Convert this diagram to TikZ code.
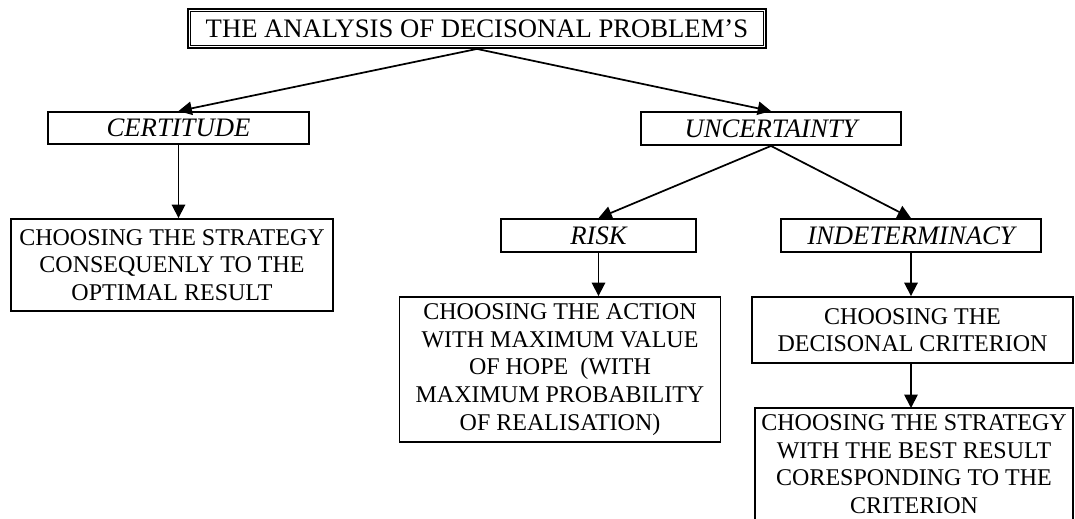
\documentclass[tikz,border=0pt]{standalone}
\usepackage{fontspec}
\setmainfont{Liberation Serif}
\usetikzlibrary{arrows.meta}
\begin{document}
\begin{tikzpicture}[x=0.75pt,y=-0.75pt,
  boxline/.style={draw, line width=1.4pt},
  box/.style={boxline, align=center, inner sep=1pt, font=\fontsize{18}{20.7}\selectfont},
  lvl/.style={box, font=\fontsize{20}{23}\selectfont\itshape},
  arr/.style={-{Triangle[length=10pt,width=10pt]}, line width=1.3pt}]
\useasboundingbox (0,0) rectangle (1075,518);
\node[draw, line width=1.4pt, align=center, font=\fontsize{20}{23}\selectfont,
      minimum width=578*0.75pt, minimum height=39*0.75pt] (title) at (477,28.5) {THE ANALYSIS OF DECISONAL PROBLEM’S};
\draw[line width=0.6pt] ([xshift=2.8pt,yshift=-2.8pt]title.north west) rectangle ([xshift=-2.8pt,yshift=2.8pt]title.south east);
\node[lvl, minimum width=261*0.75pt, minimum height=32*0.75pt] (cert) at (178.5,128) {CERTITUDE};
\node[lvl, minimum width=260*0.75pt, minimum height=33*0.75pt] (unc) at (771,128.5) {UNCERTAINTY};
\node[box, minimum width=322*0.75pt, minimum height=92*0.75pt] (cs) at (172,265) {CHOOSING THE STRATEGY\\CONSEQUENLY TO THE\\OPTIMAL RESULT};
\node[lvl, minimum width=195*0.75pt, minimum height=33*0.75pt] (risk) at (598.5,235.5) {RISK};
\node[lvl, minimum width=260*0.75pt, minimum height=33*0.75pt] (ind) at (911,235.5) {INDETERMINACY};
\node[box, minimum width=321*0.75pt, minimum height=145*0.75pt] (act) at (560,369.5) {CHOOSING THE ACTION\\WITH MAXIMUM VALUE\\OF HOPE\ \ (WITH\\MAXIMUM PROBABILITY\\OF REALISATION)};
\node[box, minimum width=321*0.75pt, minimum height=66*0.75pt] (dec) at (912.5,330) {CHOOSING THE\\DECISONAL CRITERION};
\node[box, draw=none] (best) at (914,464) {CHOOSING THE STRATEGY\\WITH THE BEST RESULT\\CORESPONDING TO THE\\CRITERION};
\coordinate (bestTop) at (914,408);
\draw[boxline] (755,408) rectangle (1073,540);
\draw[arr] (title.south) -- (cert.north);
\draw[arr] (title.south) -- (unc.north);
\draw[arr] (cert.south) -- (cert.south |- cs.north);
\draw[arr] (unc.south) -- (risk.north);
\draw[arr] (unc.south) -- (ind.north);
\draw[arr] (risk.south) -- (risk.south |- act.north);
\draw[arr] (ind.south) -- (ind.south |- dec.north);
\draw[arr] (ind.south |- dec.south) -- (ind.south |- bestTop);
\end{tikzpicture}
\end{document}
